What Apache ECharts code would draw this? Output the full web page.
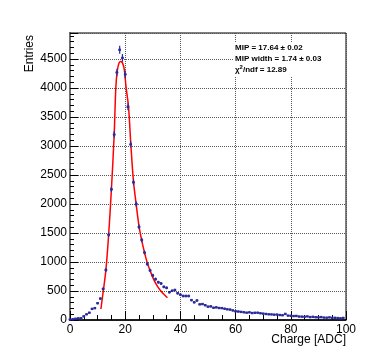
<!DOCTYPE html>
<html>
<head>
<meta charset="utf-8">
<script src="https://cdn.jsdelivr.net/npm/echarts@6/dist/echarts.min.js"></script>
<style>
  html, body { margin: 0; padding: 0; background: #ffffff; }
  #chart { width: 374px; height: 362px; }
</style>
</head>
<body>
<div id="chart"></div>
<script>
// Bin centres of the charge histogram (ADC counts, one bin per ADC unit)
const charge = [
   0,  1,  2,  3,  4,  5,  6,  7,  8,  9, 10, 11, 12, 13, 14, 15, 16, 17, 18, 19,
  20, 21, 22, 23, 24, 25, 26, 27, 28, 29, 30, 31, 32, 33, 34, 35, 36, 37, 38, 39,
  40, 41, 42, 43, 44, 45, 46, 47, 48, 49, 50, 51, 52, 53, 54, 55, 56, 57, 58, 59,
  60, 61, 62, 63, 64, 65, 66, 67, 68, 69, 70, 71, 72, 73, 74, 75, 76, 77, 78, 79,
  80, 81, 82, 83, 84, 85, 86, 87, 88, 89, 90, 91, 92, 93, 94, 95, 96, 97, 98, 99
];

// Entries per bin
const entries = [
     8,   12,   22,   29,   30,   63,   98,  126,  192,  205,
   290,  370,  537,  862, 1470, 2253, 3198, 4270, 4660, 4520,
  4236, 3677, 3029, 2374, 2000, 1605, 1380, 1163,  965,  855,
   768,  705,  652,  630,  572,  555,  480,  504,  517,  462,
   436,  414,  414,  414,  343,  305,  337,  270,  275,  255,
   230,  235,  212,  218,  207,  205,  195,  184,  180,  165,
   150,  146,  140,  133,  127,  132,  120,  125,  126,  116,
   110,  104,   98,   96,   92,   94,   86,   82,  105,   76,
    72,   68,   70,   60,   58,   55,   62,   50,   55,   48,
    46,   50,   42,   40,   45,   35,   38,   33,   30,   36
];

// Fitted MIP curve, sampled over the fit range
const fitCharge = [11.2, 12, 13, 14, 15, 16, 16.6, 17.1, 17.8, 18.4, 19.1, 19.7, 20.3, 21.2,
                   22, 23, 24, 25, 26, 27, 28, 29, 30, 31, 32, 33, 34, 35.3];
const fitEntries = [190, 480, 860, 1470, 2250, 3190, 4000, 4290, 4436, 4460, 4426, 4310, 4022, 3677,
                    3060, 2390, 1990, 1620, 1370, 1165, 985, 855, 735, 635, 558, 497, 445, 385];

// Axis tick labels
const xTicks = [0, 20, 40, 60, 80, 100];
const yTicks = [0, 500, 1000, 1500, 2000, 2500, 3000, 3500, 4000, 4500];

// Fit results
const fitLines = [
  'MIP = 17.64 \u00b1 0.02',
  'MIP width = 1.74 \u00b1 0.03',
  '{chi|\u03c7}{sup|2}{chi|/ndf = 12.89}'
];

const histData = charge.map((c, i) => [c, entries[i], Math.sqrt(entries[i])]);
const fitData = fitCharge.map((c, i) => [c, fitEntries[i]]);

const FONT = 'Liberation Sans, Arial, Helvetica, sans-serif';
const markerColor = '#2a2a9c';

const chart = echarts.init(document.getElementById('chart'), null, { renderer: 'canvas' });

const gridLine = { show: true, lineStyle: { color: '#555555', type: [1, 1], width: 1 } };

chart.setOption({
  backgroundColor: '#ffffff',
  animation: false,
  grid: {
    left: 70, right: 28, top: 33, bottom: 42,
    show: true, borderColor: '#000000', borderWidth: 1, backgroundColor: 'transparent'
  },
  xAxis: [{
    type: 'value', min: 0, max: 100, interval: 20,
    axisLine: { show: true, onZero: false, lineStyle: { color: '#000', width: 1.5 } },
    axisTick: { show: true, inside: true, length: 9, lineStyle: { color: '#000', width: 1 } },
    minorTick: { show: true, splitNumber: 4, length: 5, lineStyle: { color: '#000', width: 1 } },
    axisLabel: {
      color: '#000', fontFamily: FONT, fontSize: 12, margin: 4,
      formatter: v => (xTicks.indexOf(v) >= 0 ? String(v) : '')
    },
    splitLine: gridLine
  }],
  yAxis: [{
    type: 'value', min: 0, max: 4950, interval: 500,
    axisLine: { show: true, onZero: false, lineStyle: { color: '#000', width: 2 } },
    axisTick: { show: true, inside: true, length: 8, lineStyle: { color: '#000', width: 1 } },
    minorTick: { show: true, splitNumber: 5, length: 4, lineStyle: { color: '#000', width: 1 } },
    axisLabel: {
      color: '#000', fontFamily: FONT, fontSize: 12, margin: 3, showMaxLabel: false,
      formatter: v => (yTicks.indexOf(v) >= 0 ? String(v) : '')
    },
    splitLine: gridLine
  }, {
    type: 'value', min: 0, max: 4950, position: 'right',
    axisLine: { show: true, lineStyle: { color: '#707070', width: 2 } },
    axisTick: { show: false }, axisLabel: { show: false }, splitLine: { show: false }
  }],
  series: [{
    name: 'fit',
    type: 'line',
    data: fitData,
    smooth: 0.35,
    showSymbol: false,
    lineStyle: { color: '#ff0000', width: 1.5 },
    z: 3
  }, {
    name: 'entries',
    type: 'custom',
    data: histData,
    z: 4,
    renderItem: function (params, api) {
      const x = api.value(0), y = api.value(1), e = api.value(2);
      const c = api.coord([x, y]);
      const top = api.coord([x, y + e]);
      const bot = api.coord([x, y - e]);
      const l = api.coord([x - 0.5, y]);
      const r = api.coord([x + 0.5, y]);
      const style = { stroke: markerColor, lineWidth: 1.2 };
      return {
        type: 'group',
        children: [
          { type: 'line', shape: { x1: c[0], y1: top[1], x2: c[0], y2: bot[1] }, style },
          { type: 'line', shape: { x1: l[0], y1: c[1], x2: r[0], y2: c[1] }, style },
          { type: 'rect', shape: { x: c[0] - 1.2, y: c[1] - 1.2, width: 2.4, height: 2.4 },
            style: { fill: markerColor } }
        ]
      };
    }
  }],
  graphic: [
    {
      type: 'text', left: 24, top: 35,
      style: { text: 'Entries', fontFamily: FONT, fontSize: 12, fill: '#000' },
      rotation: Math.PI / 2, originX: 0, originY: 0,
      x: 24, y: 70
    },
    {
      type: 'text', right: 28, top: 334,
      style: { text: 'Charge [ADC]', fontFamily: FONT, fontSize: 12, fill: '#000' }
    },
    {
      type: 'rect', left: 233, top: 43, shape: { width: 112, height: 33 },
      style: { fill: '#ffffff' }, z: 5
    },
    {
      type: 'text', left: 235, top: 44, z: 6,
      style: { text: fitLines[0], fontFamily: FONT, fontSize: 8, fontWeight: 'bold', fill: '#000' }
    },
    {
      type: 'text', left: 235, top: 54.5, z: 6,
      style: { text: fitLines[1], fontFamily: FONT, fontSize: 8, fontWeight: 'bold', fill: '#000' }
    },
    {
      type: 'text', left: 235, top: 64.5, z: 6,
      style: {
        text: fitLines[2], fontFamily: FONT, fontSize: 8, fontWeight: 'bold', fill: '#000',
        rich: {
          chi: { fontFamily: FONT, fontSize: 8, fontWeight: 'bold', fill: '#000' },
          sup: { fontFamily: FONT, fontSize: 6, fontWeight: 'bold', fill: '#000', verticalAlign: 'top', padding: [0, 0, 4, 0] }
        }
      }
    }
  ]
});
</script>
</body>
</html>
